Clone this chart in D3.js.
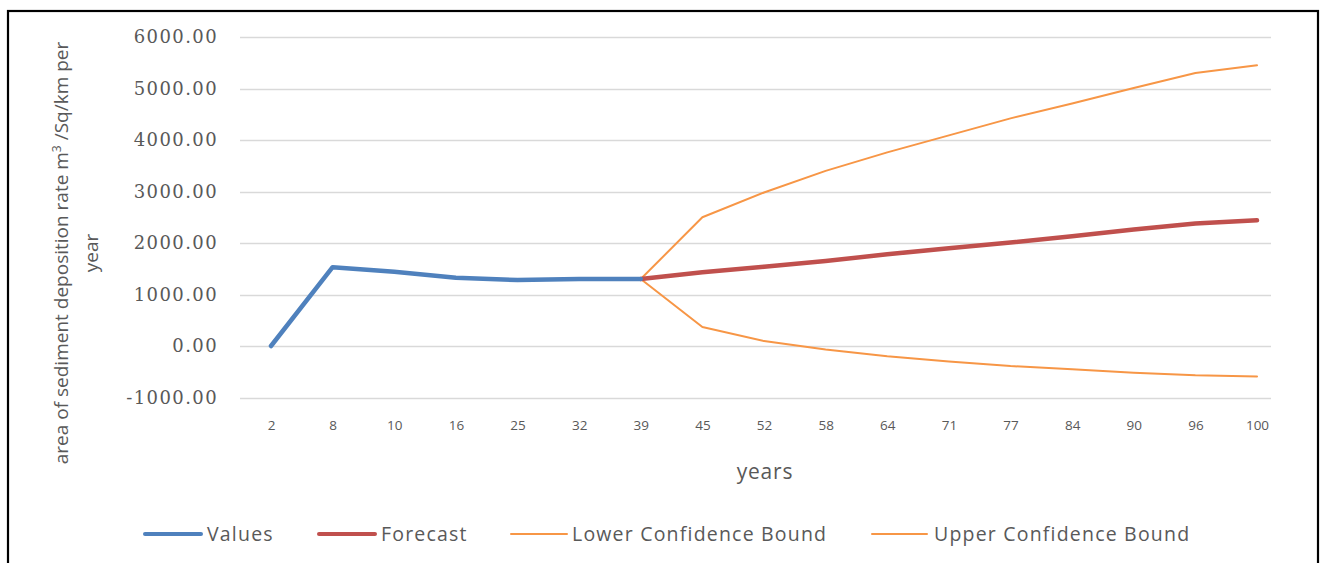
<!DOCTYPE html>
<html>
<head>
<meta charset="utf-8">
<script src="https://cdn.jsdelivr.net/npm/d3@7/dist/d3.min.js"></script>
<style>
  html, body { margin: 0; padding: 0; background: #fff; }
  svg { display: block; }
</style>
</head>
<body>
<svg id="chart" width="1321" height="563"></svg>
<script>
const years = ["2","8","10","16","25","32","39","45","52","58","64","71","77","84","90","96","100"];
const valuesSeries = [0, 1530, 1440, 1325, 1280, 1300, 1300, null, null, null, null, null, null, null, null, null, null];
const forecastSeries = [null, null, null, null, null, null, 1300, 1430, 1540, 1650, 1780, 1900, 2010, 2130, 2260, 2380, 2440];
const lowerSeries = [null, null, null, null, null, null, 1300, 370, 95, -70, -200, -300, -390, -450, -520, -570, -590];
const upperSeries = [null, null, null, null, null, null, 1300, 2500, 2980, 3400, 3760, 4090, 4420, 4710, 5010, 5300, 5450];
const yTicks = [-1000, 0, 1000, 2000, 3000, 4000, 5000, 6000];
const seriesNames = ["Values", "Forecast", "Lower Confidence Bound", "Upper Confidence Bound"];
const seriesColors = ["#4F81BD", "#C0504D", "#F79646", "#F79646"];
const seriesWidths = [4.5, 4.5, 2, 2];

const svg = d3.select("#chart");

// outer border
svg.append("rect").attr("x", 8).attr("y", 11).attr("width", 1310).attr("height", 600)
  .attr("fill", "none").attr("stroke", "#000").attr("stroke-width", 2.2);

const plotLeft = 240, plotRight = 1271;
const x = d3.scalePoint().domain(years).range([271, 1257]);
const y = d3.scaleLinear().domain([-1000, 6000]).range([397.5, 37]);

// gridlines
svg.append("g").selectAll("line").data(yTicks).join("line")
  .attr("x1", plotLeft).attr("x2", plotRight)
  .attr("y1", d => Math.round(y(d)) + 0.5).attr("y2", d => Math.round(y(d)) + 0.5)
  .attr("stroke", "#D9D9D9").attr("stroke-width", 1.3);

// y axis labels
const fmt = d3.format(".2f");
const yAxis = d3.axisLeft(y).tickValues(yTicks).tickFormat(d => fmt(d).replace("\u2212", "-")).tickSize(0).tickPadding(0);
const gy = svg.append("g").attr("transform", "translate(218,0)").call(yAxis);
gy.select(".domain").remove();
gy.selectAll("text").attr("fill", "#595959")
  .style("font-family", "'DejaVu Serif', serif").style("font-size", "18px")
  .style("letter-spacing", "1.4px");

// x axis labels
const xAxis = d3.axisBottom(x).tickSize(0).tickPadding(0);
const gx = svg.append("g").attr("transform", "translate(0,420)").call(xAxis);
gx.select(".domain").remove();
gx.selectAll("text").attr("fill", "#595959")
  .style("font-family", "'Open Sans', sans-serif").style("font-size", "13.5px");

// lines
const allSeries = [valuesSeries, forecastSeries, lowerSeries, upperSeries];
const line = d3.line().defined(d => d.v !== null).x(d => x(d.k)).y(d => y(d.v));
[2, 3, 1, 0].forEach(i => {
  const data = years.map((k, j) => ({k, v: allSeries[i][j]}));
  svg.append("path").datum(data).attr("d", line)
    .attr("fill", "none").attr("stroke", seriesColors[i])
    .attr("stroke-width", seriesWidths[i]).attr("stroke-linejoin", "round").attr("stroke-linecap", "round");
});

// axis titles
svg.append("text").attr("x", 765).attr("y", 479).attr("text-anchor", "middle")
  .attr("fill", "#595959").style("font-family", "'Open Sans', sans-serif").style("font-size", "21px")
  .style("letter-spacing", "0.8px")
  .text("years");

const yt = svg.append("text").attr("transform", "translate(0,253) rotate(-90)")
  .attr("text-anchor", "middle").attr("fill", "#595959")
  .style("font-family", "'Open Sans', sans-serif").style("font-size", "19px");
const t1 = yt.append("tspan").attr("x", 0).attr("y", 68).text("area of sediment deposition rate m");
t1.append("tspan").attr("dy", -7).style("font-size", "12px").text("3");
t1.append("tspan").attr("dy", 7).text(" /Sq/km per");
yt.append("tspan").attr("x", 0).attr("y", 98).text("year");

// legend
const legendItems = [
  {x1: 145, x2: 201, tx: 207},
  {x1: 319, x2: 375, tx: 381},
  {x1: 511, x2: 567, tx: 572},
  {x1: 872, x2: 927, tx: 934}
];
const lg = svg.append("g");
legendItems.forEach((it, i) => {
  lg.append("line").attr("x1", it.x1).attr("x2", it.x2).attr("y1", 534).attr("y2", 534)
    .attr("stroke", seriesColors[i]).attr("stroke-width", i < 2 ? 4 : 2).attr("stroke-linecap", "round");
  lg.append("text").attr("x", it.tx).attr("y", 541).attr("fill", "#595959")
    .style("font-family", "'Open Sans', sans-serif").style("font-size", "19.5px")
    .style("letter-spacing", "1.2px")
    .text(seriesNames[i]);
});
</script>
</body>
</html>
